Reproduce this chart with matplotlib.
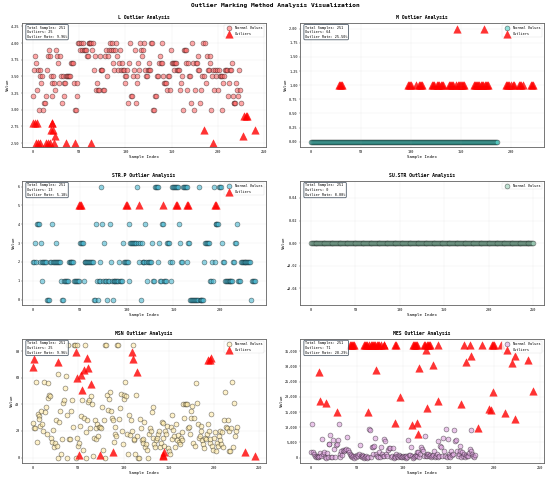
import matplotlib
matplotlib.use('Agg')
import matplotlib.pyplot as plt
from matplotlib.ticker import FuncFormatter

plt.rcParams['font.family'] = ['DejaVu Sans Mono']

total_samples = 251

# L: normal values (plotted by position) and outliers (by sample index)
l_normal = [3.2, 3.6, 3.8, 3.7, 3.3, 3.6, 3.0, 3.6, 3.5, 3.4,
            3.5, 3.0, 3.1, 3.1, 3.2, 3.6, 3.8, 3.9, 3.8, 3.5,
            3.4, 3.2, 3.5, 3.4, 3.3, 3.9, 3.8, 3.7, 3.4, 3.8,
            3.5, 3.1, 3.5, 3.2, 3.4, 3.4, 3.5, 3.5, 3.5, 3.5,
            3.5, 3.7, 3.7, 3.7, 3.4, 3.0, 3.0, 3.2, 3.4, 4.0,
            4.0, 3.9, 4.0, 3.9, 4.0, 3.9, 3.9, 3.9, 3.8, 3.8,
            4.0, 4.0, 4.0, 4.0, 3.9, 4.0, 3.6, 3.8, 3.3, 3.4,
            3.3, 3.3, 3.8, 3.6, 3.6, 3.6, 3.3, 3.3, 3.8, 3.9,
            3.5, 3.8, 3.9, 4.0, 3.9, 4.0, 3.9, 3.7, 3.6, 3.9,
            4.0, 3.8, 3.6, 3.7, 3.9, 3.6, 3.7, 3.6, 3.6, 3.5,
            3.4, 3.5, 3.6, 3.1, 3.7, 4.0, 3.2, 3.2, 3.5, 3.6,
            3.9, 3.1, 3.5, 3.4, 3.7, 3.6, 4.0, 3.9, 3.8, 3.9,
            4.0, 3.6, 3.5, 3.5, 3.6, 3.7, 3.6, 3.6, 4.0, 4.0,
            3.0, 3.0, 3.2, 3.2, 3.5, 3.5, 3.7, 3.8, 3.7, 4.0,
            3.7, 3.5, 3.4, 3.4, 3.4, 3.3, 3.5, 3.5, 3.3, 3.9,
            3.7, 3.7, 3.6, 3.7, 3.7, 3.7, 3.6, 3.6, 3.6, 3.3,
            3.4, 3.5, 3.0, 3.9, 3.9, 3.9, 3.7, 3.3, 3.7, 3.5,
            3.5, 3.1, 4.0, 3.7, 3.0, 3.3, 3.7, 3.7, 3.6, 3.8,
            3.6, 3.1, 3.3, 3.5, 4.0, 3.5, 4.0, 3.4, 3.8, 3.6,
            3.6, 3.7, 3.8, 3.0, 3.5, 3.6, 3.3, 3.6, 3.5, 3.6,
            3.3, 3.6, 3.5, 3.5, 3.0, 3.5, 3.4, 3.5, 3.6, 3.6,
            3.6, 3.2, 3.4, 3.6, 3.6, 3.7, 3.2, 3.1, 3.1, 3.1,
            3.4, 3.3, 3.2, 3.6, 3.3, 3.1]
l_out_idx = [0, 2, 4, 3, 5, 7, 14, 16, 18, 19, 20, 21, 22, 23, 24,
             36, 45, 63, 185, 195, 227, 228, 230, 231, 240]
l_out_val = [2.8, 2.8, 2.8, 2.5, 2.5, 2.5, 2.5, 2.5, 2.5, 2.7, 2.8, 2.8, 2.7, 2.5, 2.6,
             2.5, 2.5, 2.5, 2.7, 2.5, 2.6, 2.9, 2.9, 2.9, 2.7]

# M: every normal value is 0 (187 of them)
m_normal = [0.0] * 187
m_out_idx = [28, 29, 30, 31,
             97, 98, 99, 100,
             105, 108, 109, 110, 111,
             121, 122, 123, 126, 127, 128, 130, 131, 132,
             138, 139, 140, 141, 142, 145, 146, 147, 148, 149, 150, 151, 152, 153,
             163, 164, 165, 166, 167, 168, 170, 171, 172, 173, 174, 175, 176, 177,
             195, 196, 197, 198, 200, 202, 203,
             208, 209, 210, 212,
             220, 221, 222]
m_out_val = [1, 1, 1, 1,
             1, 1, 1, 1,
             1, 1, 1, 1, 1,
             1, 1, 1, 1, 1, 1, 1, 1, 1,
             1, 1, 1, 1, 1, 1, 2, 1, 1, 1, 1, 1, 1, 1,
             1, 1, 1, 1, 1, 1, 1, 1, 1, 2, 1, 1, 1, 1,
             1, 1, 1, 1, 1, 1, 1,
             1, 1, 1, 1,
             1, 1, 1]

strp_normal = [2, 2, 3, 2, 4, 4, 4, 2, 3, 2,
               1, 2, 2, 2, 2, 0, 0, 0, 2, 2,
               4, 2, 2, 2, 2, 3, 2, 2, 2, 2,
               1, 0, 0, 1, 1, 1, 1, 1, 2, 2,
               2, 2, 2, 2, 1, 1, 1, 1, 1, 1,
               3, 3, 3, 3, 1, 2, 2, 2, 2, 2,
               2, 2, 2, 2, 2, 0, 0, 4, 1, 0,
               1, 2, 1, 6, 4, 1, 3, 1, 1, 0,
               1, 1, 4, 2, 1, 0, 1, 1, 1, 1,
               1, 1, 2, 1, 1, 1, 3, 2, 2, 2,
               2, 2, 1, 4, 3, 3, 3, 3, 3, 3,
               3, 6, 3, 2, 3, 0, 3, 2, 2, 2,
               4, 2, 1, 2, 2, 2, 2, 3, 1, 1,
               6, 6, 6, 6, 2, 3, 1, 1, 4, 4,
               1, 1, 1, 3, 3, 3, 2, 1, 2, 6,
               6, 6, 6, 6, 6, 6, 4, 3, 2, 2,
               6, 6, 6, 6, 6, 2, 3, 3, 0, 0,
               0, 0, 0, 0, 0, 0, 0, 6, 0, 0,
               0, 0, 0, 2, 3, 3, 3, 3, 3, 1,
               1, 2, 1, 6, 2, 4, 4, 4, 4, 6,
               6, 6, 3, 2, 2, 1, 1, 1, 1, 1,
               1, 1, 1, 1, 2, 2, 3, 3, 4, 1,
               1, 1, 2, 2, 2, 2, 2, 2, 2, 2,
               2, 2, 2, 0, 1, 1, 1, 1]
strp_out_idx = [49, 50, 51, 99, 100, 113, 139, 153, 154, 165, 166, 194, 195]
strp_out_val = [5, 5, 5, 5, 5, 5, 5, 5, 5, 5, 5, 5, 5]

# SU.STR: all 251 values are 0, no outliers
sustr_normal = [0.0] * 251
sustr_out_idx = []
sustr_out_val = []

msn_normal = [26, 22, 22, 57, 12, 33, 31, 29, 24, 35, 25, 20,
              57, 34, 38, 18, 56, 45, 47, 46, 15, 12, 21, 8,
              11, 28, 9, 0, 63, 27, 35, 3, 14, 41, 43, 52,
              61, 32, 0, 85, 14, 14, 35, 43, 23, 85, 85, 0,
              85, 15, 9, 11, 24, 31, 43, 6, 30, 85, 0, 19,
              28, 42, 43, 22, 46, 40, 1, 15, 28, 22, 14, 25,
              16, 23, 23, 22, 38, 6, 28, 0, 85, 85, 47, 36,
              44, 49, 35, 30, 28, 12, 23, 18, 16, 85, 85, 29,
              37, 48, 20, 10, 47, 44, 57, 46, 18, 3, 32, 17,
              28, 20, 85, 13, 14, 3, 47, 16, 0, 0, 29, 22,
              13, 14, 11, 27, 8, 10, 6, 0, 18, 22, 20, 34,
              38, 15, 10, 8, 13, 15, 18, 20, 8, 11, 27, 26,
              15, 9, 20, 18, 24, 7, 5, 3, 23, 14, 32, 21,
              16, 8, 25, 13, 17, 12, 10, 15, 13, 19, 40, 30,
              40, 40, 40, 22, 23, 18, 30, 35, 39, 11, 30, 9,
              56, 41, 25, 15, 16, 24, 20, 13, 10, 7, 15, 14,
              18, 25, 20, 11, 14, 33, 9, 6, 15, 19, 5, 11,
              9, 16, 13, 20, 10, 19, 8, 28, 49, 23, 22, 28,
              5, 20, 5, 22, 57, 8, 41, 16, 20, 23]
msn_out_idx = [0, 1, 28, 47, 49, 51, 53, 54, 56, 60, 61, 64, 74,
               88, 109, 110, 115, 143, 144, 145, 193, 195, 197, 234, 245]
msn_out_val = [68, 74, 72, 79, 60, 2, 62, 51, 66, 75, 67, 55, 2,
               4, 79, 74, 64, 1, 2, 4, 73, 73, 75, 4, 1]

mes_normal = [1900, 11000, 1900, 1100, 560, 220, 560, 220, 300,
              560, 1570, 560, 6150, 1100, 1680, 220, 0, 1500,
              50, 4470, 4470, 7270, 50, 50, 5900, 2800, 150,
              4250, 4470, 5800, 11180, 1100, 220, 2000, 900, 2600,
              2240, 2570, 2800, 6800, 2460, 1680, 1100, 560, 700,
              220, 560, 0, 560, 220, 900, 560, 1100, 4000,
              450, 900, 220, 560, 0, 220, 450, 0, 100,
              9500, 8950, 220, 3350, 3580, 1100, 3900, 6480, 1200,
              560, 220, 1680, 220, 3350, 1100, 560, 6150, 500,
              5590, 1100, 560, 2570, 3130, 3020, 220, 560, 3000,
              0, 560, 220, 1100, 560, 220, 900, 560, 200,
              220, 560, 220, 560, 0, 560, 220, 5800, 800,
              900, 3350, 560, 0, 220, 560, 900, 560, 1800,
              1680, 220, 1100, 3350, 2800, 2240, 560, 6930, 400,
              1100, 560, 1100, 560, 900, 220, 560, 900, 2200,
              220, 560, 1100, 5590, 220, 560, 3900, 3580, 600,
              6480, 2240, 560, 9500, 220, 6150, 1100, 560, 100,
              2240, 900, 1100, 9170, 5590, 5800, 2000, 560, 1300,
              3900, 2240, 220, 1680, 560, 1100, 220, 900, 350,
              560, 1450, 2800, 9170, 2000, 1100, 560, 220, 700]
mes_out_idx = [42, 43, 45, 46, 47, 58, 59, 60, 61, 63, 65, 66, 67,
               69, 70, 72, 73, 74, 76, 79, 80, 92, 93, 111, 112, 113, 114, 115,
               123, 124, 126, 128, 129, 130, 138, 167, 173, 186, 197, 198, 200, 207,
               9, 10, 16, 28, 62, 71, 91, 97, 110, 117, 116, 118, 125, 127,
               133, 139, 164, 169, 174, 182, 194, 196, 199, 212, 219, 222, 223, 237, 242]
mes_out_val = [37200, 37200, 37200, 37200, 37200, 37200, 37200, 37200, 37200, 37200, 37200, 37200, 37200,
               37200, 37200, 37200, 37200, 37200, 37200, 37200, 37200, 37200, 37200, 37200, 37200, 37200, 37200, 37200,
               37200, 37200, 37200, 37200, 37200, 37200, 37200, 37200, 37200, 37200, 37200, 37200, 37200, 37200,
               28000, 18450, 17900, 15100, 14900, 28850, 11500, 19900, 10850, 7800, 11500, 29400, 35400, 16200,
               30600, 18450, 17650, 31500, 33300, 9850, 15900, 15650, 21450, 14550, 31000, 12850, 33400, 32200, 21800]

columns = ['L', 'M', 'STR.P', 'SU.STR', 'MSN', 'MES']
outlier_counts = [25, 64, 13, 0, 25, 71]
colors = ['#FF6B6B', '#4ECDC4', '#45B7D1', '#96CEB4', '#FFEAA7', '#DDA0DD']
normals = [l_normal, m_normal, strp_normal, sustr_normal, msn_normal, mes_normal]
out_idx = [l_out_idx, m_out_idx, strp_out_idx, sustr_out_idx, msn_out_idx, mes_out_idx]
out_val = [l_out_val, m_out_val, strp_out_val, sustr_out_val, msn_out_val, mes_out_val]

fig, axes = plt.subplots(3, 2, figsize=(22, 19.2), dpi=25)
fig.subplots_adjust(left=0.04, right=0.989, top=0.952, bottom=0.035,
                    wspace=0.14, hspace=0.27)
fig.suptitle('Outlier Marking Method Analysis Visualization', fontsize=18,
             fontweight='bold', y=0.993)

for i, ax in enumerate(axes.flat):
    col = columns[i]
    ax.scatter(range(len(normals[i])), normals[i], c=colors[i], alpha=0.6, s=200,
               edgecolors='black', linewidths=1.5, label='Normal Values')
    if len(out_idx[i]) > 0:
        ax.scatter(out_idx[i], out_val[i], c='red', marker='^', s=480, alpha=0.8,
                   label='Outliers')
    ax.set_title(f'{col} Outlier Analysis', fontsize=14, fontweight='bold', pad=12)
    ax.set_xlabel('Sample Index', fontsize=12)
    ax.set_ylabel('Value', fontsize=12)
    ax.tick_params(labelsize=10)
    ax.grid(True, alpha=0.3)
    ax.legend(loc='upper right', fontsize=10)
    rate = outlier_counts[i] / total_samples * 100
    info = f'Total Samples: {total_samples}\nOutliers: {outlier_counts[i]}\nOutlier Rate: {rate:.2f}%'
    ax.text(0.02, 0.98, info, transform=ax.transAxes, fontsize=10, va='top',
            bbox=dict(boxstyle='round', facecolor='white', edgecolor='#2f3e4e',
                      linewidth=2.5, alpha=0.8))
    for sp in ax.spines.values():
        sp.set_linewidth(2.5)
        sp.set_color('#666666')

axes[0, 0].set_ylim(2.435, 4.3)
axes[2, 1].yaxis.set_major_formatter(FuncFormatter(lambda v, p: f'{v:,.0f}'))

plt.savefig('out.png', dpi=25)
